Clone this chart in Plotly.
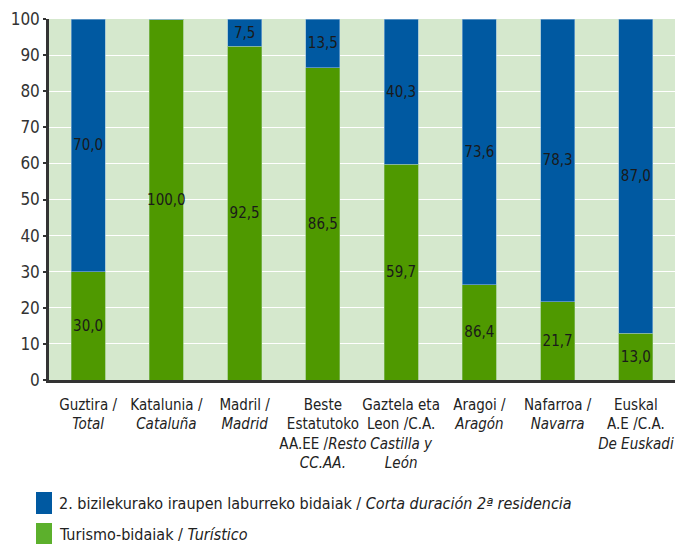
import plotly.graph_objects as go

# Categories (Basque / Spanish), with the Spanish part in italics
categories = ["Guztira", "Katalunia", "Madril", "Beste", "Gaztela", "Aragoi", "Nafarroa", "Euskal"]
tick_labels = [
    "Guztira /<br><i>Total</i>",
    "Katalunia /<br><i>Cataluña</i>",
    "Madril /<br><i>Madrid</i>",
    "Beste<br>Estatutoko<br>AA.EE /<i>Resto</i><br><i>CC.AA.</i>",
    "Gaztela eta<br>Leon /C.A.<br><i>Castilla y</i><br><i>León</i>",
    "Aragoi /<br><i>Aragón</i>",
    "Nafarroa /<br><i>Navarra</i>",
    "Euskal<br>A.E /C.A.<br><i>De Euskadi</i>",
]

# Share of trips (%)
turistico = [30.0, 100.0, 92.5, 86.5, 59.7, 26.4, 21.7, 13.0]
segunda_residencia = [70.0, 0.0, 7.5, 13.5, 40.3, 73.6, 78.3, 87.0]
# Printed labels as they appear in the source table
turistico_labels = ["30,0", "100,0", "92,5", "86,5", "59,7", "86,4", "21,7", "13,0"]
segunda_labels = ["70,0", "", "7,5", "13,5", "40,3", "73,6", "78,3", "87,0"]

legend_names = [
    "2. bizilekurako iraupen laburreko bidaiak / <i>Corta duración 2ª residencia</i>",
    "Turismo-bidaiak / <i>Turístico</i>",
]

FONT = "DejaVu Sans Condensed, Liberation Sans Narrow, sans-serif"
BLUE = "#0059a1"
GREEN = "#4f9900"
GREEN_LEGEND = "#5cb02c"

fig = go.Figure()
fig.add_trace(go.Bar(
    x=categories, y=turistico, name=legend_names[1],
    marker=dict(color=GREEN, line=dict(width=0.6, color="#8cc070")),
    text=turistico_labels, textposition="inside", insidetextanchor="middle",
    textangle=0, constraintext="none",
    textfont=dict(family=FONT, size=15, color="#1a1a1a"),
    width=0.435, showlegend=False,
))
fig.add_trace(go.Bar(
    x=categories, y=segunda_residencia, name=legend_names[0],
    marker=dict(color=BLUE, line=dict(width=0.6, color="#8fb8d8")),
    text=segunda_labels, textposition="inside", insidetextanchor="middle",
    textangle=0, constraintext="none",
    textfont=dict(family=FONT, size=15, color="#1a1a1a"),
    width=0.435, showlegend=False,
))

# Custom legend below the chart
legend_items = [(legend_names[0], BLUE, 503), (legend_names[1], GREEN_LEGEND, 534)]
for name, color, yc in legend_items:
    fig.add_shape(type="rect", xref="paper", yref="paper",
                  x0=(36 - 49) / 626, x1=(52 - 49) / 626,
                  y0=(380 - (yc - 11)) / 361, y1=(380 - (yc + 11)) / 361,
                  fillcolor=color, line=dict(width=0))
    fig.add_annotation(xref="paper", yref="paper",
                       x=(57 - 49) / 626, y=(380 - yc) / 361,
                       text=name, showarrow=False, xanchor="left", yanchor="middle",
                       font=dict(family=FONT, size=16, color="#222"))

fig.update_layout(
    barmode="stack",
    width=683, height=544,
    margin=dict(l=49, r=8, t=19, b=164),
    paper_bgcolor="white",
    plot_bgcolor="#d5e8cd",
    font=dict(family=FONT, color="#333"),
    bargap=0.565,
    uniformtext=dict(mode=False),
)
fig.update_yaxes(
    range=[0, 100], dtick=10, showgrid=True, gridcolor="white", gridwidth=1.2,
    showline=True, linecolor="#333", linewidth=2.5,
    ticks="outside", ticklen=3, tickcolor="#333", tickwidth=1.5,
    tickfont=dict(family=FONT, size=17, color="#333"), zeroline=False,
)
fig.update_xaxes(
    tickvals=categories, ticktext=tick_labels, tickangle=0,
    showline=True, linecolor="#333", linewidth=2.5, ticks="",
    ticklabelstandoff=9,
    tickfont=dict(family=FONT, size=15, color="#222"),
)

fig.write_html("out.html")
